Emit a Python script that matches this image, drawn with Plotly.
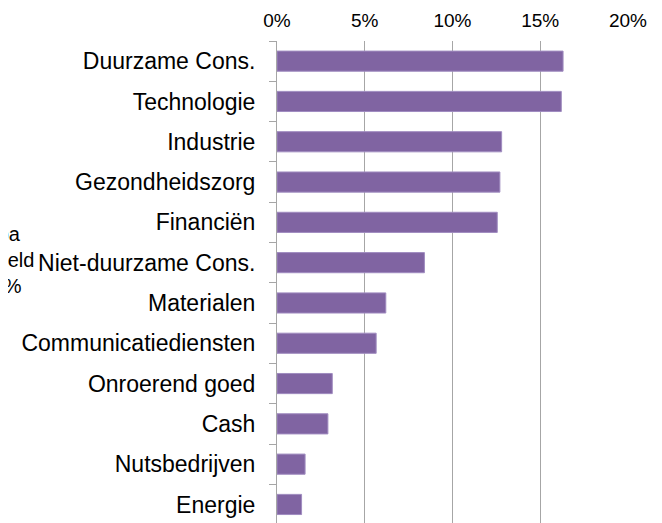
import plotly.graph_objects as go

categories = ["Duurzame Cons.", "Technologie", "Industrie", "Gezondheidszorg",
              "Financiën", "Niet-duurzame Cons.", "Materialen", "Communicatiediensten",
              "Onroerend goed", "Cash", "Nutsbedrijven", "Energie"]
weights = [16.3, 16.2, 12.8, 12.7, 12.55, 8.4, 6.2, 5.65, 3.15, 2.9, 1.6, 1.4]
tick_vals = [0, 5, 10, 15, 20]
tick_text = ["0%", "5%", "10%", "15%", "20%"]
side_note = "Europa<br>ontwikkeld<br>100,0%"

# page has an 8px body margin; margins below compensate for it
W, H = 662, 523
ML, MR, MT, MB = 269, 42, 33, 8
plot_w = W - ML - MR
plot_h = H - MT - MB

fig = go.Figure(go.Bar(
    x=weights, y=categories, orientation="h",
    marker=dict(color="#8064A2", line=dict(color="#A08CC0", width=1)),
    width=0.5,
))

fig.update_layout(
    width=W, height=H,
    margin=dict(l=ML, r=MR, t=MT, b=MB, pad=0, autoexpand=False),
    paper_bgcolor="white", plot_bgcolor="white",
    font=dict(family="Liberation Sans, Arial, sans-serif", color="black"),
    showlegend=False,
    xaxis=dict(side="top", range=[0, 20], tickvals=tick_vals, ticktext=tick_text,
               showgrid=True, gridcolor="#A6A6A6", gridwidth=1, zeroline=False,
               showline=False, ticks="", tickfont=dict(size=19), ticklabelstandoff=9,
               automargin=False),
    yaxis=dict(range=[11.46, -0.5], showline=True, linecolor="#A6A6A6", linewidth=1,
               ticks="outside", tickson="boundaries", ticklen=7, tickcolor="#A6A6A6",
               tickfont=dict(size=23), showgrid=False, ticklabelstandoff=16,
               automargin=False),
    annotations=[dict(
        text=side_note, xref="paper", yref="paper",
        x=(-21 - ML) / plot_w, y=(H - MB - 252) / plot_h,
        xanchor="center", yanchor="middle", align="center", showarrow=False,
        font=dict(size=20, family="Liberation Sans, Arial, sans-serif"),
    )],
)

fig.write_html("out.html")
